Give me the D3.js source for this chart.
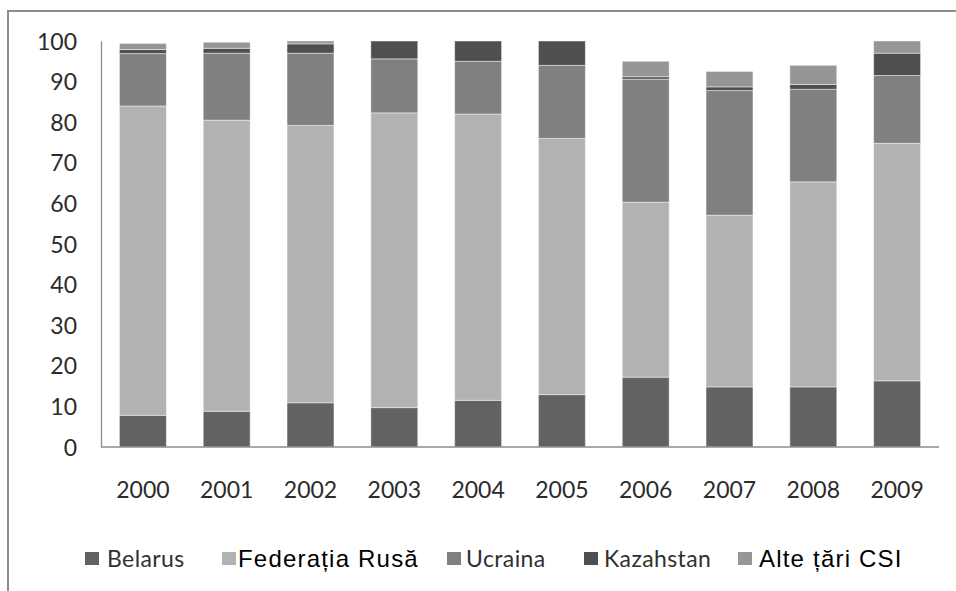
<!DOCTYPE html>
<html>
<head>
<meta charset="utf-8">
<script src="https://cdn.jsdelivr.net/npm/d3@7"></script>
<style>
  body { margin: 0; background: #fff; }
  .axis-text { font-family: Lato, "Open Sans", sans-serif; font-size: 23px; fill: #2b2b2b; }
</style>
</head>
<body>
<svg id="chart"></svg>
<script>
const w = 956, h = 591;
const margins = {top: 41, right: 17, bottom: 144, left: 101};

// data (percent)
const years = ['2000','2001','2002','2003','2004','2005','2006','2007','2008','2009'];
const belarus   = [7.8, 8.8, 10.9, 9.7, 11.5, 12.9, 17.2, 14.8, 14.8, 16.3];
const rusia     = [76.2, 71.7, 68.3, 72.6, 70.5, 63.1, 43.1, 42.3, 50.5, 58.5];
const ucraina   = [12.9, 16.5, 17.8, 13.3, 13.0, 18.0, 30.3, 30.7, 22.8, 16.7];
const kazahstan = [1.0, 1.2, 2.3, 4.4, 5.0, 6.0, 0.6, 0.9, 1.2, 5.5];
const alte      = [1.5, 1.5, 0.7, 0, 0, 0, 3.8, 3.8, 4.7, 3.0];
const seriesNames = ['Belarus', 'Federația Rusă', 'Ucraina', 'Kazahstan', 'Alte țări CSI'];
const yTicks = [0,10,20,30,40,50,60,70,80,90,100];

const colors = ['#626262', '#b2b2b2', '#808080', '#4f4f4f', '#969696'];

// table for the stack
const table = years.map((y, i) => ({
  year: y,
  'Belarus': belarus[i],
  'Federația Rusă': rusia[i],
  'Ucraina': ucraina[i],
  'Kazahstan': kazahstan[i],
  'Alte țări CSI': alte[i]
}));

const chart = d3.select('#chart')
  .attr('width', w)
  .attr('height', h);

// outer frame (runs off the right and bottom)
chart.append('rect')
  .attr('x', 8).attr('y', 11)
  .attr('width', 1000).attr('height', 700)
  .attr('fill', 'none')
  .attr('stroke', '#8c8c8c')
  .attr('stroke-width', 2);

const xScale = d3.scaleBand()
  .domain(years)
  .range([margins.left, w - margins.right])
  .paddingInner(0.44)
  .paddingOuter(0.22);

const yScale = d3.scaleLinear()
  .domain([0, 100])
  .range([h - margins.bottom, margins.top]);

const stacked = d3.stack().keys(seriesNames)(table);

chart.append('g')
  .selectAll('g')
  .data(stacked)
  .join('g')
    .attr('fill', (d, i) => colors[i])
  .selectAll('rect')
  .data(d => d.filter(s => s[1] - s[0] > 0))
  .join('rect')
    .attr('x', d => xScale(d.data.year))
    .attr('y', d => yScale(d[1]))
    .attr('width', xScale.bandwidth())
    .attr('height', d => yScale(d[0]) - yScale(d[1]))
    .attr('stroke', '#ffffff')
    .attr('stroke-opacity', 0.45)
    .attr('stroke-width', 1);

// Y AXIS
const yAxis = chart.append('g')
  .attr('transform', `translate(${margins.left}, 0)`)
  .call(d3.axisLeft(yScale).tickValues(yTicks).tickSize(0).tickPadding(24));
yAxis.select('.domain').attr('stroke', '#8c8c8c').attr('stroke-width', 1.3);
yAxis.selectAll('text').attr('class', 'axis-text').attr('fill', null).attr('dy', '0.35em');

// X AXIS
const xAxis = chart.append('g')
  .attr('transform', `translate(0, ${h - margins.bottom})`)
  .call(d3.axisBottom(xScale).tickSize(0).tickPadding(43));
xAxis.select('.domain').attr('stroke', '#8c8c8c').attr('stroke-width', 1.3)
  .attr('d', `M${margins.left},0H${w - margins.right}`);
xAxis.selectAll('text').attr('class', 'axis-text').attr('fill', null).attr('dy', '0.35em');

// LEGEND
const legendSwatchX = [85, 222, 447, 584, 738];
const legendTextX = [107, 238, 466, 604, 759];
const calibriLike = {family: 'Lato, sans-serif', size: 23, spacing: 0.4, color: '#303030'};
const arialLike = {family: '"Liberation Sans", Arial, sans-serif', size: 24, spacing: 1.2, color: '#000'};
const legendFonts = [calibriLike, arialLike, calibriLike, calibriLike, arialLike];

const legend = chart.append('g');

legend.selectAll('rect')
  .data(seriesNames)
  .join('rect')
    .attr('x', (d, i) => legendSwatchX[i])
    .attr('y', 552)
    .attr('width', 14).attr('height', 13)
    .attr('fill', (d, i) => colors[i]);

legend.selectAll('text')
  .data(seriesNames)
  .join('text')
    .attr('x', (d, i) => legendTextX[i])
    .attr('y', 559)
    .attr('dy', '0.35em')
    .style('font-family', (d, i) => legendFonts[i].family)
    .style('font-size', (d, i) => legendFonts[i].size + 'px')
    .style('letter-spacing', (d, i) => legendFonts[i].spacing + 'px')
    .style('fill', (d, i) => legendFonts[i].color)
    .text(d => d);
</script>
</body>
</html>
